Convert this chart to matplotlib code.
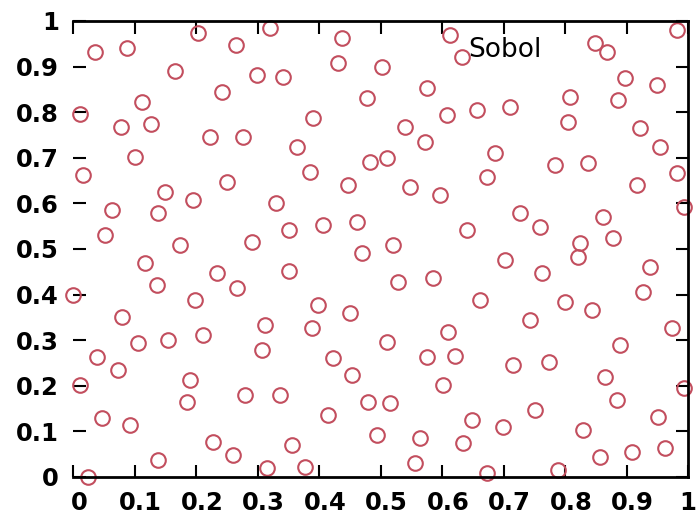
import matplotlib
matplotlib.use("Agg")
import matplotlib.pyplot as plt
import matplotlib.transforms as mtransforms

x_vals = [0.036, 0.088, 0.203, 0.265, 0.320, 0.437, 0.613, 0.633, 0.849, 0.868,
          0.982, 0.166, 0.299, 0.341, 0.431, 0.502, 0.898, 0.950, 0.576, 0.242,
          0.112, 0.478, 0.808, 0.886, 0.711, 0.608, 0.657, 0.390, 0.011, 0.078,
          0.127, 0.540, 0.805, 0.922, 0.223, 0.276, 0.572, 0.954, 0.101, 0.364,
          0.686, 0.511, 0.483, 0.385, 0.784, 0.837, 0.673, 0.016, 0.982, 0.250,
          0.447, 0.548, 0.917, 0.150, 0.597, 0.195, 0.330, 0.993, 0.063, 0.138,
          0.727, 0.862, 0.407, 0.462, 0.759, 0.351, 0.641, 0.052, 0.878, 0.174,
          0.291, 0.520, 0.470, 0.824, 0.821, 0.117, 0.234, 0.267, 0.351, 0.702,
          0.763, 0.938, 0.137, 0.198, 0.528, 0.585, 0.927, 0.000, 0.662, 0.800,
          0.844, 0.398, 0.450, 0.080, 0.312, 0.743, 0.389, 0.974, 0.211, 0.610,
          0.106, 0.154, 0.307, 0.511, 0.889, 0.039, 0.423, 0.576, 0.621, 0.715,
          0.774, 0.073, 0.454, 0.190, 0.865, 0.602, 0.011, 0.993, 0.280, 0.337,
          0.185, 0.480, 0.515, 0.885, 0.751, 0.415, 0.047, 0.649, 0.951, 0.093,
          0.699, 0.829, 0.494, 0.564, 0.228, 0.634, 0.356, 0.963, 0.909, 0.260,
          0.857, 0.138, 0.556, 0.315, 0.377, 0.789, 0.673, 0.024]
y_vals = [0.932, 0.941, 0.974, 0.947, 0.985, 0.963, 0.969, 0.921, 0.952, 0.932,
          0.980, 0.890, 0.882, 0.877, 0.908, 0.899, 0.875, 0.860, 0.853, 0.844,
          0.822, 0.831, 0.833, 0.827, 0.811, 0.794, 0.805, 0.787, 0.796, 0.768,
          0.774, 0.768, 0.779, 0.765, 0.746, 0.746, 0.735, 0.724, 0.702, 0.724,
          0.711, 0.700, 0.691, 0.669, 0.684, 0.689, 0.658, 0.662, 0.667, 0.647,
          0.640, 0.636, 0.640, 0.625, 0.618, 0.607, 0.601, 0.592, 0.586, 0.579,
          0.579, 0.570, 0.553, 0.559, 0.548, 0.542, 0.542, 0.531, 0.524, 0.509,
          0.515, 0.509, 0.491, 0.513, 0.482, 0.469, 0.447, 0.414, 0.452, 0.476,
          0.447, 0.461, 0.421, 0.388, 0.428, 0.436, 0.406, 0.399, 0.388, 0.384,
          0.366, 0.377, 0.360, 0.351, 0.333, 0.344, 0.327, 0.327, 0.311, 0.318,
          0.294, 0.300, 0.279, 0.296, 0.289, 0.263, 0.261, 0.263, 0.265, 0.246,
          0.252, 0.235, 0.224, 0.213, 0.219, 0.202, 0.202, 0.195, 0.180, 0.180,
          0.164, 0.164, 0.162, 0.169, 0.147, 0.136, 0.129, 0.125, 0.132, 0.114,
          0.110, 0.103, 0.092, 0.086, 0.077, 0.075, 0.070, 0.064, 0.055, 0.048,
          0.044, 0.037, 0.031, 0.020, 0.022, 0.015, 0.009, 0.000]

series_label = "Sobol"
tick_values = [0, 0.1, 0.2, 0.3, 0.4, 0.5, 0.6, 0.7, 0.8, 0.9, 1]
tick_labels = ["0", "0.1", "0.2", "0.3", "0.4", "0.5", "0.6", "0.7", "0.8", "0.9", "1"]

fig = plt.figure(figsize=(6.98, 5.25), dpi=100)
ax = fig.add_axes([73/698, 1-477/525, 615/698, 456/525])

ax.plot(x_vals, y_vals, linestyle="none", marker="o", markersize=10.5,
        markerfacecolor="none", markeredgecolor="#c24e5e", markeredgewidth=1.5,
        clip_on=False)

ax.set_xlim(0, 1)
ax.set_ylim(0, 1)
ax.set_xticks(tick_values)
ax.set_yticks(tick_values)
ax.set_xticklabels(tick_labels)
ax.set_yticklabels(tick_labels)
ax.tick_params(direction="in", length=9, width=1.5, top=True, right=True,
               labelsize=17.5, pad=10, colors="black")
for lab in ax.get_xticklabels() + ax.get_yticklabels():
    lab.set_fontweight("bold")
    lab.set_family("DejaVu Sans")
offset = mtransforms.ScaledTranslation(6/100, 0, fig.dpi_scale_trans)
for lab in ax.get_xticklabels()[:-1]:
    lab.set_transform(lab.get_transform() + offset)

for side in ["top", "bottom", "right"]:
    ax.spines[side].set_linewidth(2.0)
ax.spines["left"].set_visible(False)

ax.text(0.642, 0.936, series_label, transform=ax.transAxes, fontsize=19,
        ha="left", va="center", family="DejaVu Sans")

fig.savefig("out.png", dpi=100)
